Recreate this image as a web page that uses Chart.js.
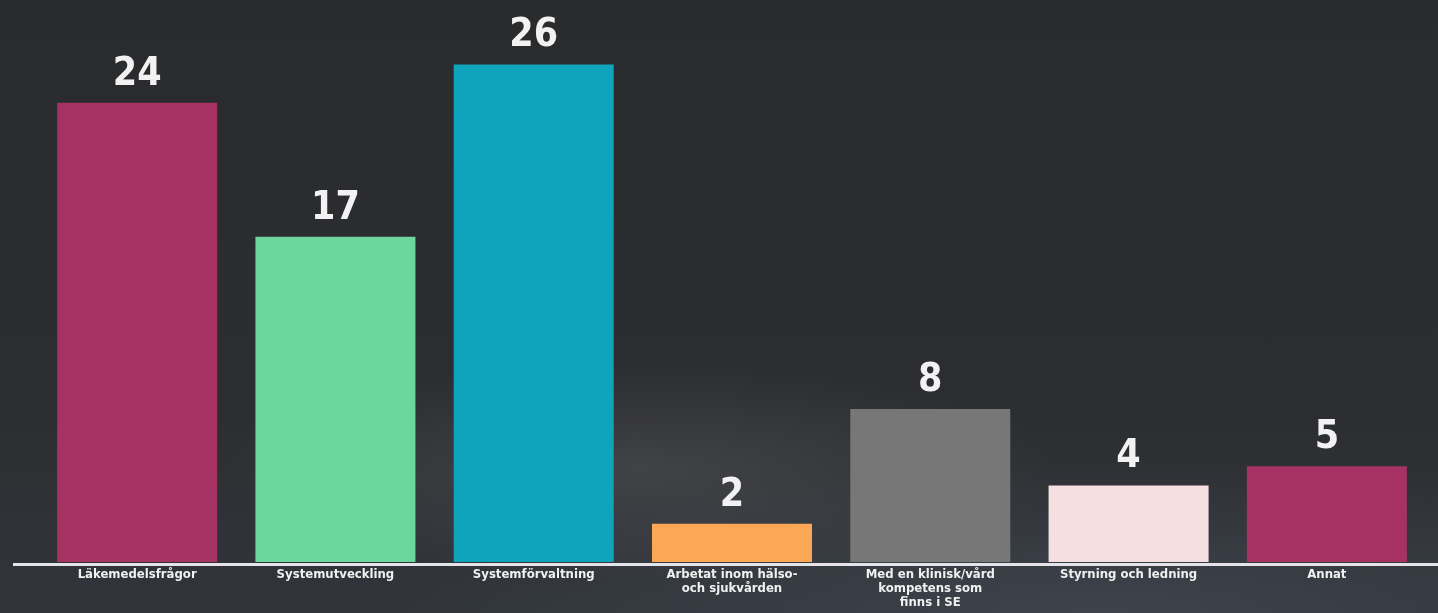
<!DOCTYPE html>
<html>
<head>
<meta charset="utf-8">
<script src="https://cdn.jsdelivr.net/npm/chart.js@4/dist/chart.umd.min.js"></script>
<style>
  html, body { margin: 0; padding: 0; }
  body {
    width: 1438px; height: 613px; overflow: hidden;
    background:
      radial-gradient(ellipse 420px 110px at 640px 470px, rgba(110,110,112,0.30), rgba(0,0,0,0)),
      radial-gradient(ellipse 700px 150px at 1100px 610px, rgba(90,100,115,0.30), rgba(0,0,0,0)),
      linear-gradient(#2a2b2d 0%, #2c2d30 65%, #31353b 100%);
  }
  #wrap { position: relative; width: 1438px; height: 613px; }
</style>
</head>
<body>
<div id="wrap"><canvas id="barChart"></canvas></div>
<script>
// Kategorier och värden
let kategorier = [
  "Läkemedelsfrågor",
  "Systemutveckling",
  "Systemförvaltning",
  ["Arbetat inom hälso-", "och sjukvården"],
  ["Med en klinisk/vård", "kompetens som", "finns i SE"],
  "Styrning och ledning",
  "Annat"
];
let antal = [24, 17, 26, 2, 8, 4, 5];
let farger = ["#a53263", "#6dd69c", "#0ea5bc", "#fba756", "#777777", "#f5dfe1", "#a53263"];

//Plugin: siffror ovanför staplarna + baslinjen
let etiketter = {
  id: "etiketter",
  afterDatasetsDraw(chart) {
    let ctx = chart.ctx;
    let meta = chart.getDatasetMeta(0);
    ctx.save();
    ctx.fillStyle = "#f2f2f2";
    ctx.font = "bold 39px 'DejaVu Sans Condensed', 'DejaVu Sans', sans-serif";
    ctx.textAlign = "center";
    ctx.textBaseline = "alphabetic";
    meta.data.forEach(function(bar, i) {
      ctx.fillText(antal[i], bar.x, bar.y - 18);
    });
    // baslinje
    let y0 = chart.scales.y.getPixelForValue(0);
    ctx.fillStyle = "#e4e4ea";
    ctx.fillRect(13, y0 + 1, chart.width - 13, 3);
    ctx.restore();
  }
};

new Chart(document.getElementById("barChart"), {
  type: "bar",
  data: {
    labels: kategorier,
    datasets: [{
      data: antal,
      backgroundColor: farger,
      borderWidth: 0,
      barPercentage: 0.807,
      categoryPercentage: 1
    }]
  },
  options: {
    responsive: true,
    maintainAspectRatio: false,
    animation: false,
    layout: { padding: { top: 7, left: 38, right: 12, bottom: 0 } },
    plugins: { legend: { display: false }, tooltip: { enabled: false } },
    scales: {
      y: { display: false, min: 0, max: 29 },
      x: {
        grid: { display: false, drawTicks: false },
        border: { display: false },
        afterFit: function(scale) { scale.height = 51; },
        ticks: {
          color: "#f0f0f0",
          padding: 5,
          maxRotation: 0,
          autoSkip: false,
          font: { family: "'DejaVu Sans Condensed', 'DejaVu Sans', sans-serif", size: 13, weight: "bold", lineHeight: 1.1 }
        }
      }
    }
  },
  plugins: [etiketter]
});
</script>
</body>
</html>
